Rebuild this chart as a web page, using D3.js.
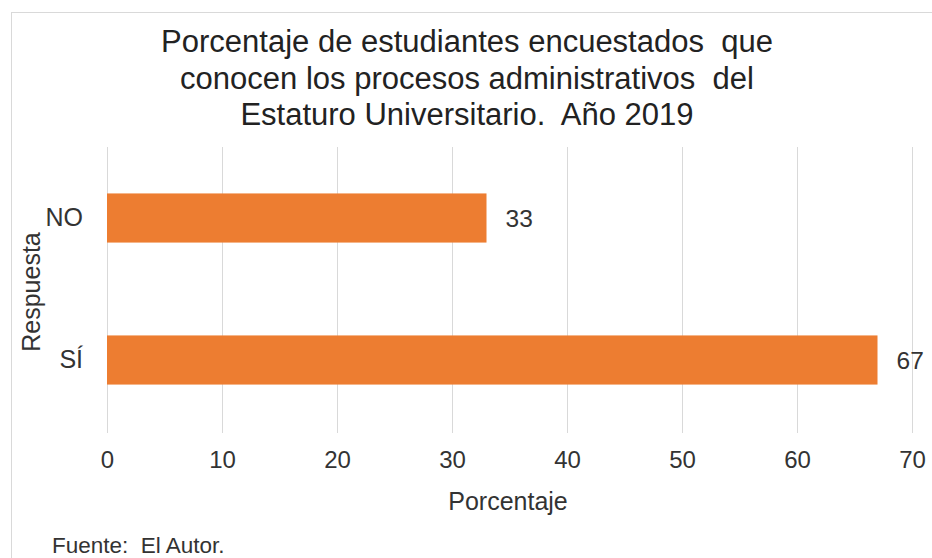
<!DOCTYPE html>
<html>
<head>
<meta charset="utf-8">
<script src="https://cdn.jsdelivr.net/npm/d3@7"></script>
<style>
  html, body { margin: 0; padding: 0; background: #fff; }
  svg { display: block; font-family: "Liberation Sans", Arial, sans-serif; }
</style>
</head>
<body>
<svg id="chart" width="932" height="558"></svg>
<script>
// Survey answers and their percentages
const categories = ["NO", "SÍ"];
const percentages = [33, 67];
const xTicks = [0, 10, 20, 30, 40, 50, 60, 70];
const titleLines = [
  "Porcentaje de estudiantes encuestados  que",
  "conocen los procesos administrativos  del",
  "Estaturo Universitario.  Año 2019"
];
const xAxisTitle = "Porcentaje";
const yAxisTitle = "Respuesta";
const sourceNote = "Fuente:  El Autor.";

const W = 932, H = 558;
const plot = { left: 107, right: 912, top: 147, bottom: 433 };
const textColor = "#333333";
const barColor = "#ED7D31";
const gridColor = "#d9d9d9";

const svg = d3.select("#chart");

// Outer chart frame
svg.append("rect")
  .attr("x", 11.5).attr("y", 12.5)
  .attr("width", W).attr("height", H)
  .attr("fill", "#fff")
  .attr("stroke", "#d9d9d9").attr("stroke-width", 1);

const x = d3.scaleLinear()
  .domain([xTicks[0], xTicks[xTicks.length - 1]])
  .range([plot.left, plot.right]);

const y = d3.scaleBand()
  .domain(categories)
  .range([plot.top, plot.bottom - 2])
  .paddingInner(0.654)
  .paddingOuter(0.327);

// Vertical gridlines
svg.append("g")
  .selectAll("line")
  .data(xTicks)
  .join("line")
  .attr("x1", d => Math.round(x(d)) + 0.5)
  .attr("x2", d => Math.round(x(d)) + 0.5)
  .attr("y1", plot.top)
  .attr("y2", plot.bottom)
  .attr("stroke", gridColor)
  .attr("stroke-width", 1);

// X axis tick labels (no axis line)
const xAxis = d3.axisBottom(x).tickValues(xTicks).tickSize(0).tickPadding(0);
const gx = svg.append("g")
  .attr("transform", `translate(0, 451)`)
  .call(xAxis);
gx.select(".domain").remove();
gx.selectAll("text")
  .attr("fill", textColor)
  .attr("font-size", 24)
  .attr("font-family", "Liberation Sans, Arial, sans-serif")
  .attr("dy", "0.71em");

// Y axis category labels
const yAxis = d3.axisLeft(y).tickSize(0).tickPadding(0);
const gy = svg.append("g")
  .attr("transform", `translate(83, 0)`)
  .call(yAxis);
gy.select(".domain").remove();
gy.selectAll("text")
  .attr("fill", textColor)
  .attr("font-size", 25)
  .attr("font-family", "Liberation Sans, Arial, sans-serif")
  .attr("dy", "0.3em");

const rows = categories.map((c, i) => ({ cat: c, value: percentages[i] }));

// Bars
svg.append("g")
  .selectAll("rect")
  .data(rows)
  .join("rect")
  .attr("x", x(0))
  .attr("y", d => y(d.cat))
  .attr("width", d => x(d.value) - x(0))
  .attr("height", y.bandwidth())
  .attr("fill", barColor);

// Value labels at bar ends
svg.append("g")
  .selectAll("text")
  .data(rows)
  .join("text")
  .attr("x", d => x(d.value) + 19)
  .attr("y", d => y(d.cat) + y.bandwidth() / 2)
  .attr("dy", "0.38em")
  .attr("fill", textColor)
  .attr("font-size", 24.5)
  .text(d => d.value);

// Title
svg.append("text")
  .attr("x", 467)
  .attr("font-size", 31)
  .attr("fill", "#222")
  .attr("text-anchor", "middle")
  .style("white-space", "pre")
  .selectAll("tspan")
  .data(titleLines)
  .join("tspan")
  .attr("x", 467)
  .attr("y", (d, i) => 52 + i * 36.5)
  .text(d => d);

// Axis titles
svg.append("text")
  .attr("x", 508)
  .attr("y", 510)
  .attr("text-anchor", "middle")
  .attr("font-size", 25)
  .attr("fill", textColor)
  .text(xAxisTitle);

svg.append("text")
  .attr("transform", `translate(40, 292) rotate(-90)`)
  .attr("text-anchor", "middle")
  .attr("font-size", 25)
  .attr("fill", textColor)
  .text(yAxisTitle);

// Source note
svg.append("text")
  .attr("x", 52)
  .attr("y", 553)
  .attr("font-size", 22.5)
  .attr("fill", textColor)
  .style("white-space", "pre")
  .text(sourceNote);
</script>
</body>
</html>
